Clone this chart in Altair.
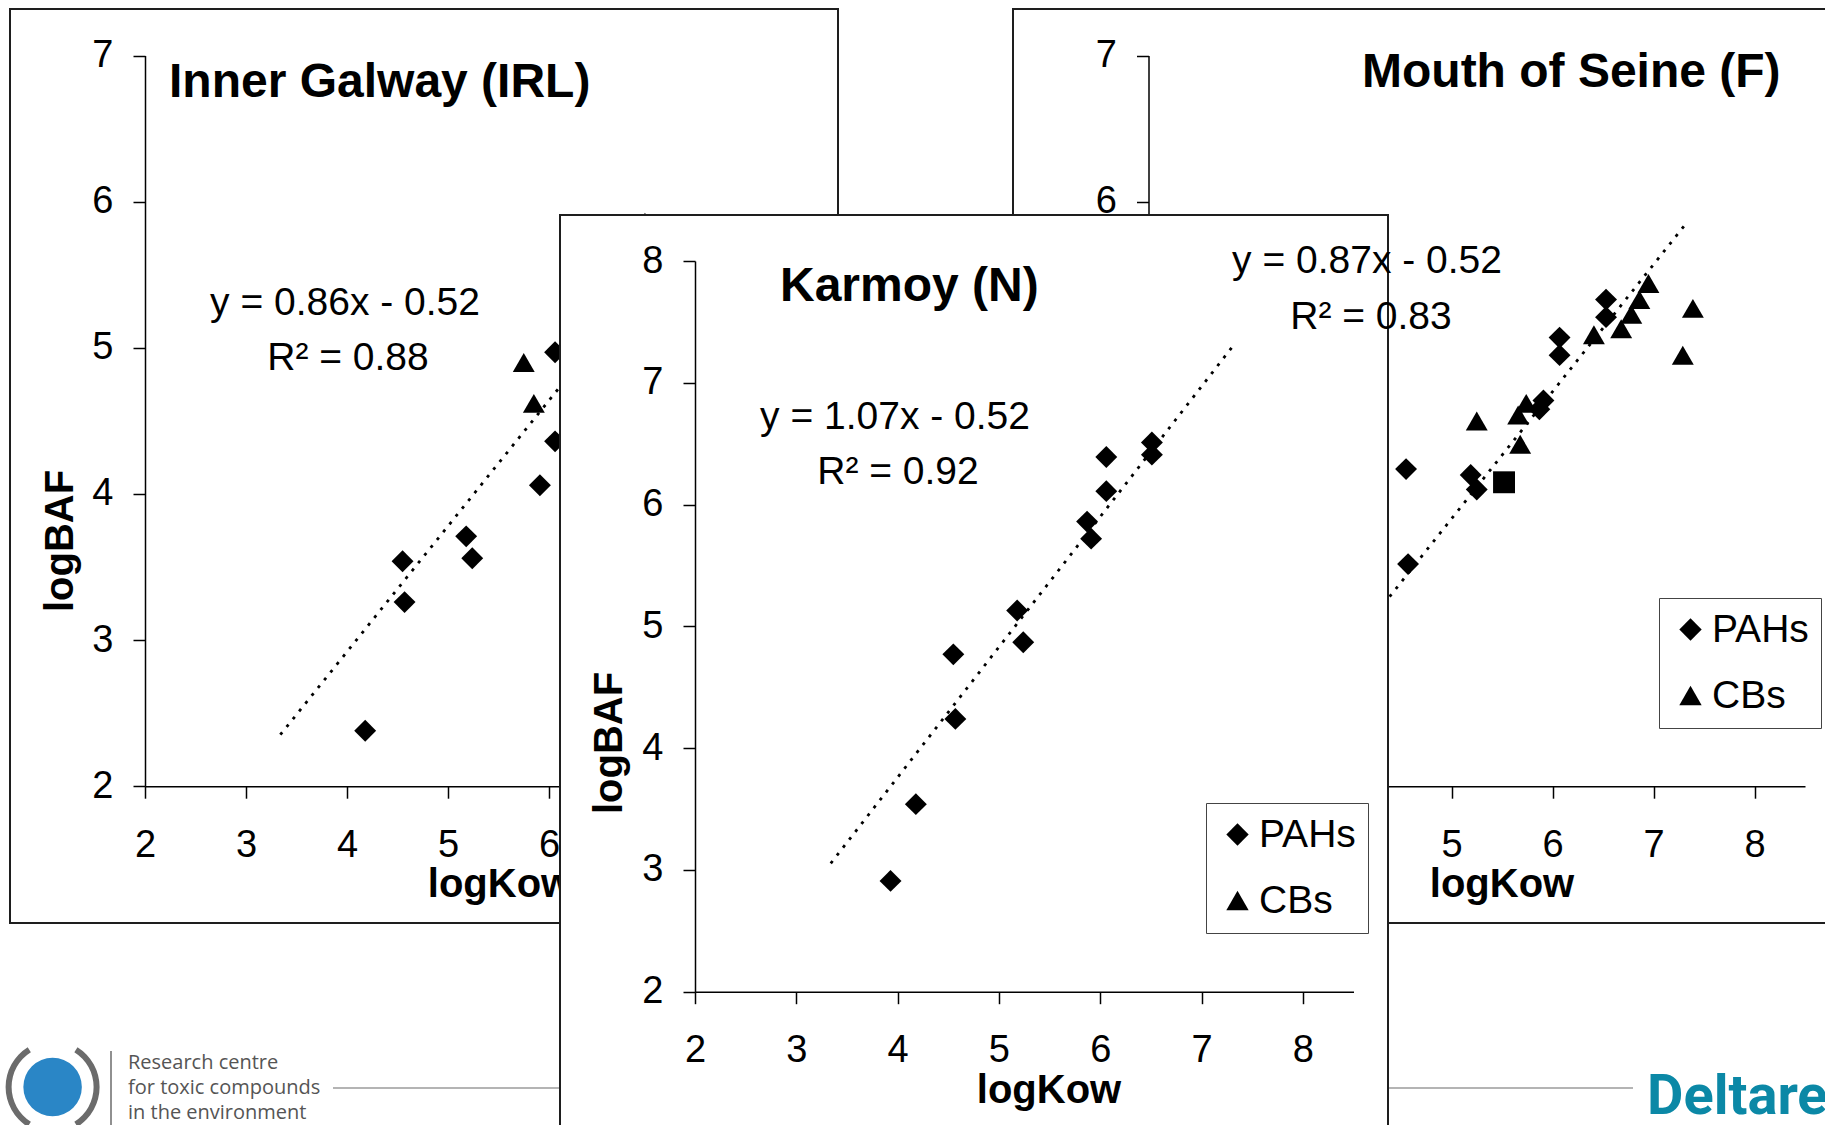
import math

import altair as alt
import pandas as pd

W, H = 1825, 1125
FONT = "Liberation Sans"
INK = "black"

# ---------------- values read per panel ----------------
x_ticks = [2, 3, 4, 5, 6, 7, 8]
baf_ticks_7 = [2, 3, 4, 5, 6, 7]
baf_ticks_8 = [2, 3, 4, 5, 6, 7, 8]
group_names = ["PAHs", "CBs"]

galway_pah_kow = [4.18, 4.55, 4.57, 5.18, 5.24, 5.91, 6.06, 6.06]
galway_pah_baf = [2.38, 3.54, 3.26, 3.71, 3.56, 4.06, 4.97, 4.36]
galway_cb_kow = [5.75, 5.85, 6.95]
galway_cb_baf = [4.90, 4.62, 5.86]

karmoy_pah_kow = [3.93, 4.18, 4.55, 4.57, 5.18, 5.24, 5.87, 5.91, 6.06, 6.06, 6.51, 6.51]
karmoy_pah_baf = [2.91, 3.54, 4.77, 4.24, 5.13, 4.87, 5.86, 5.72, 6.39, 6.11, 6.51, 6.41]

seine_pah_kow = [4.55, 4.57, 5.19, 5.25, 5.87, 5.91, 6.07, 6.07, 6.53, 6.53]
seine_pah_baf = [4.17, 3.52, 4.13, 4.03, 4.58, 4.64, 5.07, 4.95, 5.33, 5.21]
seine_cb_kow = [5.25, 5.66, 5.68, 5.74, 6.41, 6.68, 6.78, 6.86, 6.95, 7.29, 7.39]
seine_cb_baf = [4.50, 4.54, 4.34, 4.62, 5.09, 5.13, 5.23, 5.33, 5.44, 4.95, 5.27]
seine_other_kow = [5.52]
seine_other_baf = [4.08]

# regression lines as printed in each panel: (slope, intercept)
galway_fit = (0.86, -0.52)
karmoy_fit = (1.07, -0.52)
seine_fit = (0.87, -0.52)
fit_kow_span = [3.34, 7.32]


def points_frame(*series):
    rows = []
    for name, xs, ys in series:
        rows += [{"kow": a, "baf": b, "group": name} for a, b in zip(xs, ys)]
    return pd.DataFrame(rows)


def fit_frame(fit):
    slope, icpt = fit
    return pd.DataFrame({"kow": fit_kow_span,
                         "baf": [slope * k + icpt for k in fit_kow_span]})


def one_row():
    return pd.DataFrame({"k": [0]})


def text_mark(txt, x, y, size=39, bold=False, align="center", angle=0,
              color=INK, font=FONT, baseline="middle"):
    props = dict(font=font, fontSize=size, align=align, baseline=baseline,
                 color=color, fontWeight="bold" if bold else "normal")
    if angle:
        props["angle"] = angle
    return (alt.Chart(pd.DataFrame({"label": [txt]}))
            .mark_text(**props)
            .encode(x=alt.value(x), y=alt.value(y), text="label:N"))


def frame(x0, y0, x1, y1, fill=None):
    props = dict(stroke="#1e1e1e", strokeWidth=2)
    if fill:
        props["fill"] = fill
    else:
        props["fillOpacity"] = 0
    return (alt.Chart(one_row()).mark_rect(**props)
            .encode(x=alt.value(x0), x2=alt.value(x1),
                    y=alt.value(y0), y2=alt.value(y1)))


AXIS_STYLE = dict(domainColor=INK, domainWidth=1.5, tickColor=INK, tickWidth=1.5,
                  tickSize=12, labelFont=FONT, labelFontSize=38, labelColor=INK,
                  grid=False, title=None, labelFlush=False, labelOverlap=False)


def legend_at(x, y):
    return alt.Legend(orient="none", legendX=x, legendY=y, title=None,
                      values=group_names, fillColor="white", strokeColor="#444",
                      padding=12, labelFont=FONT, labelFontSize=39, labelColor=INK,
                      symbolSize=500, symbolFillColor=INK, symbolStrokeColor=INK,
                      symbolStrokeWidth=0, symbolOpacity=1, rowPadding=26,
                      labelOffset=2)


def panel(pts, fit, x_px, y_px, baf_dom, baf_ticks, front, legend,
          shape_dom, shape_rng):
    z = 1 if front else 0
    x_enc = alt.X("kow:Q",
                  scale=alt.Scale(domain=[2, 8.5], range=x_px, nice=False, zero=False),
                  axis=alt.Axis(orient="bottom", offset=y_px[0] - H, values=x_ticks,
                                labelPadding=28, zindex=z, **AXIS_STYLE))
    y_enc = alt.Y("baf:Q",
                  scale=alt.Scale(domain=baf_dom, range=y_px, nice=False, zero=False),
                  axis=alt.Axis(orient="left", offset=-x_px[0], values=baf_ticks,
                                labelPadding=20, zindex=z, **AXIS_STYLE))
    line = (alt.Chart(fit_frame(fit))
            .mark_line(color=INK, strokeWidth=2.8, strokeDash=[3, 7])
            .encode(x=x_enc, y=y_enc))
    dots = (alt.Chart(pts)
            .mark_point(filled=True, size=480, color=INK, opacity=1, strokeWidth=0)
            .encode(x=x_enc, y=y_enc,
                    shape=alt.Shape("group:N",
                                    scale=alt.Scale(domain=shape_dom, range=shape_rng),
                                    legend=legend)))
    return alt.layer(line, dots)


# ---------------- Inner Galway (back left) ----------------
galway = panel(
    points_frame(("PAHs", galway_pah_kow, galway_pah_baf),
                 ("CBs", galway_cb_kow, galway_cb_baf)),
    galway_fit, [145, 801.5], [786.2, 55.6], [2, 7], baf_ticks_7, False, None,
    group_names, ["diamond", "triangle-up"])
galway_deco = [
    frame(10, 9, 838, 923),
    text_mark("Inner Galway (IRL)", 169, 83, size=48, bold=True, align="left"),
    text_mark("y = 0.86x - 0.52", 345, 302.5),
    text_mark("R² = 0.88", 348, 357.5),
    text_mark("logKow", 500, 885, size=40, bold=True),
    text_mark("logBAF", 60.5, 541, size=40, bold=True, angle=270),
]

# ---------------- Mouth of Seine (back right) ----------------
seine = panel(
    points_frame(("PAHs", seine_pah_kow, seine_pah_baf),
                 ("CBs", seine_cb_kow, seine_cb_baf),
                 ("Other", seine_other_kow, seine_other_baf)),
    seine_fit, [1148.5, 1805], [786.2, 55.6], [2, 7], baf_ticks_7, False,
    legend_at(1659, 598), group_names + ["Other"],
    ["diamond", "triangle-up", "square"])
seine_deco = [
    frame(1013, 9, 1840, 923),
    text_mark("Mouth of Seine (F)", 1362, 73, size=48, bold=True, align="left"),
    text_mark("logKow", 1502, 885, size=40, bold=True),
]
seine_fit_text = [
    text_mark("y = 0.87x - 0.52", 1367, 260.5),
    text_mark("R² = 0.83", 1371, 316.5),
]

# ---------------- footer logos ----------------
GREY = "#6b6b6b"
footer = [
    alt.Chart(one_row()).mark_rule(color="#b4b4b4", strokeWidth=2)
    .encode(x=alt.value(333), x2=alt.value(1633), y=alt.value(1088)),
    alt.Chart(one_row()).mark_rule(color=GREY, strokeWidth=1.5)
    .encode(x=alt.value(111), y=alt.value(1051), y2=alt.value(1125)),
    alt.Chart(one_row()).mark_circle(size=math.pi * 33 ** 2, color="#2a86c6", opacity=1)
    .encode(x=alt.value(52.6), y=alt.value(1087)),
    alt.Chart(one_row()).mark_arc(color=GREY, radius=47, radius2=41,
                                  theta=math.radians(212), theta2=math.radians(328))
    .encode(x=alt.value(52.6), y=alt.value(1087)),
    alt.Chart(one_row()).mark_arc(color=GREY, radius=47, radius2=41,
                                  theta=math.radians(32), theta2=math.radians(148))
    .encode(x=alt.value(52.6), y=alt.value(1087)),
    text_mark("Research centre", 128, 1062.7, size=20, align="left",
              color="#555555", font="Open Sans"),
    text_mark("for toxic compounds", 128, 1088.3, size=20, align="left",
              color="#555555", font="Open Sans"),
    text_mark("in the environment", 128, 1112.7, size=20, align="left",
              color="#555555", font="Open Sans"),
    text_mark("Deltares", 1647, 1114, size=56, bold=True, align="left",
              color="#0b88a6", font="Roboto", baseline="alphabetic"),
]

# ---------------- Karmoy (front) ----------------
karmoy_card = frame(560, 215, 1388, 1140, fill="white")
karmoy = panel(
    points_frame(("PAHs", karmoy_pah_kow, karmoy_pah_baf)),
    karmoy_fit, [695, 1353.5], [991.7, 261], [2, 8], baf_ticks_8, True,
    legend_at(1206, 803), group_names, ["diamond", "triangle-up"])
karmoy_deco = [
    text_mark("Karmoy (N)", 780, 287, size=48, bold=True, align="left"),
    text_mark("y = 1.07x - 0.52", 895, 416.5),
    text_mark("R² = 0.92", 898, 471.5),
    text_mark("logKow", 1049, 1090.5, size=40, bold=True),
    text_mark("logBAF", 610, 743, size=40, bold=True, angle=270),
]

chart = (
    alt.layer(*galway_deco, galway, *seine_deco, seine, *footer,
              karmoy_card, karmoy, *karmoy_deco, *seine_fit_text)
    .resolve_scale(x="independent", y="independent", shape="independent")
    .properties(width=W, height=H, padding=0,
                autosize=alt.AutoSizeParams(type="none"), background="white")
    .configure_view(stroke=None)
)

chart.save("out.html", embed_options={"renderer": "svg", "actions": False})
